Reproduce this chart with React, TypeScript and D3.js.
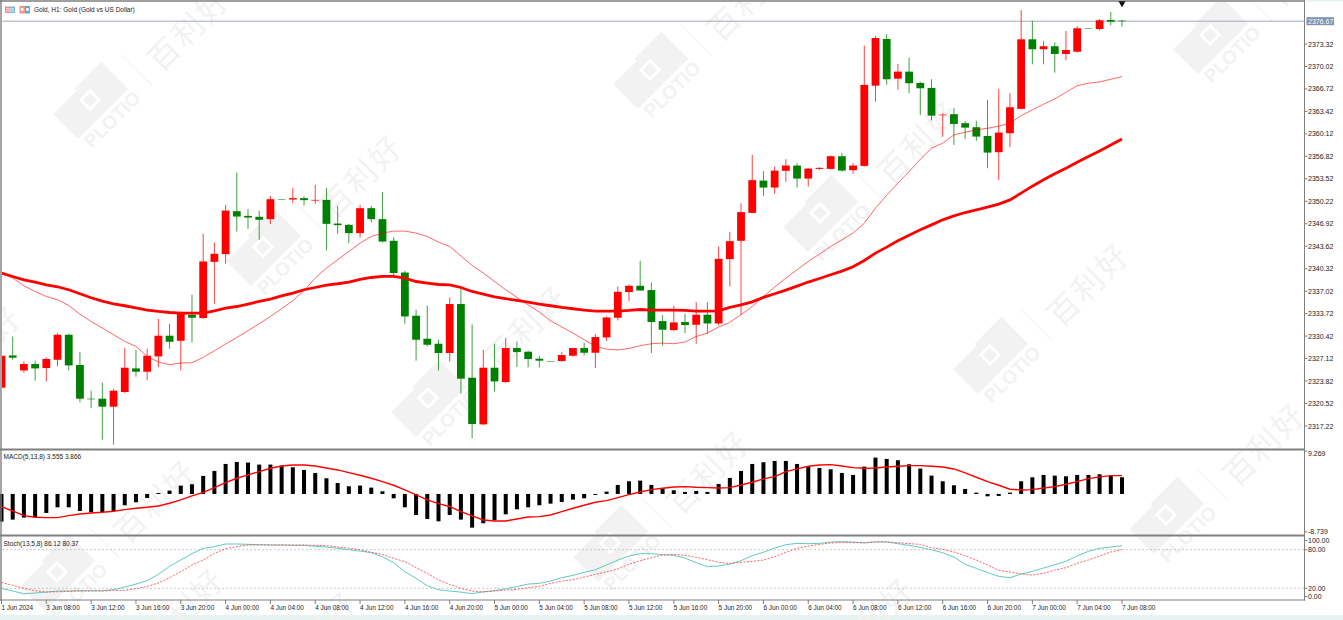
import { useEffect, useRef } from "react";
import * as d3 from "d3";

// hourly gold candles, 3 Jun 04:00 to 7 Jun 08:00
const openPrices = [
  2322.84, 2327.58, 2325.38, 2326.32, 2325.74, 2326.95, 2330.62, 2326.18, 2321.23, 2321.23,
  2320.06, 2322.21, 2325.68, 2325.19, 2327.44, 2330.48, 2329.74, 2333.56, 2333.07, 2341.33,
  2342.46, 2348.77, 2348.08, 2347.94, 2347.6, 2350.53, 2350.48, 2350.68, 2350.33, 2350.43,
  2346.95, 2346.76, 2345.55, 2349.21, 2347.6, 2344.42, 2339.76, 2333.41, 2330.04, 2329.3,
  2327.94, 2335.13, 2324.31, 2317.46, 2325.78, 2323.68, 2328.67, 2328.13, 2327.1, 2326.76,
  2326.76, 2327.54, 2328.67, 2327.98, 2330.23, 2333.12, 2336.89, 2337.81, 2337.18, 2332.63,
  2331.31, 2332.49, 2332.09, 2333.56, 2332.28, 2341.73, 2344.42, 2348.52, 2353.26, 2352.24,
  2354.69, 2355.47, 2353.56, 2354.98, 2354.98, 2356.84, 2354.79, 2355.42, 2367.2, 2374.06,
  2368.23, 2369.26, 2367.6, 2366.87, 2362.86, 2363.01, 2361.69, 2361.1, 2359.82, 2357.43,
  2360.22, 2363.79, 2374.01, 2372.55, 2372.99, 2371.86, 2372.19, 2375.63, 2375.52, 2376.85,
  2376.75,
];
const closePrices = [
  2327.54, 2327.25, 2326.32, 2325.68, 2327.06, 2330.62, 2326.12, 2321.23, 2321.14, 2320.06,
  2322.4, 2325.78, 2325.19, 2327.54, 2330.48, 2329.59, 2333.85, 2333.12, 2341.38, 2342.51,
  2348.86, 2347.98, 2347.83, 2347.5, 2350.53, 2350.5, 2350.68, 2350.39, 2350.43, 2346.91,
  2346.72, 2345.55, 2349.21, 2347.6, 2344.31, 2339.68, 2333.31, 2329.89, 2329.15, 2327.94,
  2335.13, 2324.17, 2317.52, 2325.78, 2323.77, 2328.67, 2328.08, 2327.06, 2326.81, 2326.74,
  2327.64, 2328.67, 2327.98, 2330.28, 2333.16, 2336.93, 2337.81, 2337.12, 2332.49, 2331.36,
  2332.43, 2332.05, 2333.56, 2332.28, 2341.77, 2344.37, 2348.63, 2353.32, 2352.24, 2354.73,
  2355.47, 2353.56, 2355.02, 2355.13, 2356.84, 2354.73, 2355.47, 2367.31, 2374.2, 2368.14,
  2369.26, 2367.56, 2366.82, 2362.8, 2362.95, 2361.58, 2361.04, 2359.72, 2357.37, 2360.31,
  2364.03, 2374.01, 2372.55, 2372.99, 2371.86, 2372.44, 2375.63, 2375.61, 2376.8, 2376.6,
  2376.67,
];
const highPrices = [
  2327.69, 2330.37, 2326.7, 2326.81, 2327.29, 2330.87, 2330.77, 2328.08, 2322.4, 2323.58,
  2322.7, 2328.67, 2328.38, 2328.57, 2332.93, 2332.19, 2334.04, 2336.49, 2345.44, 2344.17,
  2349.7, 2354.44, 2349.07, 2348.82, 2351.02, 2350.53, 2352.19, 2350.97, 2352.63, 2352.19,
  2349.55, 2346.91, 2349.7, 2349.55, 2351.56, 2344.96, 2340.01, 2334.29, 2334.92, 2329.89,
  2336.1, 2337.33, 2332.13, 2328.42, 2329.3, 2330.18, 2329.64, 2328.27, 2327.54, 2326.76,
  2328.08, 2328.71, 2329.45, 2330.72, 2333.31, 2337.71, 2338.0, 2341.48, 2338.3, 2333.51,
  2334.88, 2333.7, 2335.42, 2335.42, 2343.58, 2345.74, 2349.95, 2357.04, 2354.64, 2355.32,
  2356.4, 2355.82, 2355.13, 2355.23, 2356.93, 2357.33, 2355.82, 2373.07, 2374.5, 2374.75,
  2370.39, 2371.31, 2367.79, 2368.14, 2363.15, 2363.89, 2361.98, 2362.02, 2365.11, 2366.72,
  2366.09, 2378.31, 2376.74, 2373.76, 2373.57, 2375.23, 2375.96, 2375.63, 2376.99, 2378.02,
  2376.85,
];
const lowPrices = [
  2322.84, 2326.95, 2325.05, 2323.87, 2323.77, 2325.97, 2325.38, 2320.69, 2319.87, 2315.21,
  2314.48, 2322.07, 2324.46, 2323.97, 2325.88, 2328.57, 2325.38, 2329.49, 2332.97, 2335.17,
  2341.04, 2345.78, 2346.18, 2344.56, 2346.87, 2350.5, 2349.95, 2349.6, 2349.85, 2342.99,
  2345.44, 2344.08, 2344.9, 2347.1, 2344.17, 2339.28, 2332.24, 2326.81, 2328.91, 2325.38,
  2326.7, 2321.96, 2315.41, 2317.37, 2322.3, 2323.53, 2325.88, 2325.82, 2325.82, 2326.74,
  2326.66, 2327.39, 2327.58, 2325.74, 2329.7, 2332.72, 2335.51, 2337.08, 2327.94, 2329.01,
  2331.11, 2330.87, 2329.3, 2330.77, 2331.99, 2337.71, 2333.56, 2348.48, 2351.02, 2351.31,
  2353.07, 2352.24, 2352.38, 2354.83, 2354.88, 2354.58, 2354.25, 2355.32, 2364.86, 2367.35,
  2366.62, 2366.09, 2362.9, 2362.07, 2359.72, 2358.5, 2359.38, 2359.09, 2355.08, 2353.37,
  2358.17, 2363.74, 2370.34, 2370.34, 2369.11, 2370.93, 2372.05, 2375.61, 2375.33, 2376.07,
  2375.86,
];

const fastMa = [
  2339.68, 2338.94, 2337.81, 2336.98, 2336.24, 2335.76, 2334.92, 2333.66, 2332.57, 2331.61,
  2330.62, 2329.64, 2328.91, 2327.44, 2326.62, 2326.22, 2326.47, 2326.51, 2327.29, 2328.27,
  2329.26, 2330.23, 2331.21, 2332.24, 2333.31, 2334.44, 2335.61, 2337.12, 2338.94, 2340.41,
  2341.63, 2342.85, 2344.08, 2345.05, 2345.55, 2345.84, 2345.84, 2345.55, 2345.05, 2344.22,
  2343.58, 2342.21, 2340.79, 2339.68, 2338.44, 2337.23, 2336.1, 2335.02, 2333.95, 2332.68,
  2331.75, 2330.87, 2329.89, 2328.91, 2328.52, 2328.38, 2328.61, 2329.01, 2329.3, 2329.4,
  2329.3, 2329.55, 2330.37, 2330.87, 2331.75, 2332.43, 2333.56, 2334.77, 2336.24, 2337.62,
  2338.94, 2340.16, 2341.38, 2342.46, 2343.58, 2344.56, 2345.55, 2347.01, 2349.21, 2351.1,
  2352.9, 2354.58, 2356.4, 2358.02, 2358.75, 2359.97, 2360.37, 2360.7, 2360.95, 2361.25,
  2361.69, 2362.8, 2363.64, 2364.48, 2365.25, 2366.24, 2367.2, 2367.56, 2367.75, 2368.14,
  2368.53,
];
const slowMa = [
  2339.68, 2339.18, 2338.69, 2338.36, 2337.96, 2337.67, 2337.23, 2336.64, 2336.05, 2335.57,
  2335.17, 2334.88, 2334.58, 2334.25, 2334.04, 2333.89, 2333.81, 2333.81, 2333.81, 2334.14,
  2334.54, 2334.77, 2335.13, 2335.51, 2335.86, 2336.34, 2336.74, 2337.23, 2337.56, 2337.92,
  2338.11, 2338.36, 2338.74, 2339.03, 2339.18, 2339.18, 2338.94, 2338.44, 2338.21, 2338.0,
  2337.96, 2337.56, 2336.98, 2336.59, 2336.2, 2335.91, 2335.66, 2335.42, 2335.13, 2334.88,
  2334.63, 2334.44, 2334.25, 2334.1, 2334.1, 2334.1, 2334.19, 2334.33, 2334.25, 2334.25,
  2334.25, 2334.19, 2334.1, 2334.1, 2334.14, 2334.63, 2335.02, 2335.46, 2336.1, 2336.64,
  2337.18, 2337.77, 2338.36, 2338.88, 2339.43, 2339.97, 2340.6, 2341.53, 2342.61, 2343.49,
  2344.42, 2345.22, 2346.03, 2346.76, 2347.5, 2348.08, 2348.57, 2348.96, 2349.36, 2349.8,
  2350.43, 2351.42, 2352.44, 2353.37, 2354.25, 2355.08, 2355.96, 2356.79, 2357.62, 2358.5,
  2359.38,
];

const macdHist = [
  -6.37, -5.91, -5.45, -5.38, -4.38, -3.07, -3.07, -3.92, -4.22, -4.22,
  -3.92, -2.61, -1.92, -0.92, 0.23, 0.77, 1.92, 2.23, 4.15, 5.3,
  6.91, 7.37, 7.22, 6.76, 6.76, 6.53, 6.14, 5.53, 4.84, 3.61,
  2.53, 1.77, 1.92, 1.46, 0.61, -1.0, -3.07, -4.84, -5.76, -6.3,
  -4.84, -5.91, -7.76, -6.76, -6.07, -4.69, -3.53, -3.07, -2.61, -2.23,
  -1.84, -1.31, -1.0, -0.23, 0.54, 2.07, 2.92, 3.07, 2.07, 1.38,
  0.84, 0.46, 0.69, 0.46, 2.3, 3.69, 5.3, 6.91, 7.3, 7.6,
  7.6, 6.91, 6.38, 5.99, 5.68, 4.84, 4.38, 6.3, 8.37, 8.06,
  7.76, 6.84, 5.84, 4.22, 2.92, 2.0, 1.15, 0.31, -0.54, -0.46,
  0.31, 2.92, 3.84, 4.38, 4.22, 4.07, 4.38, 4.38, 4.53, 4.22,
  3.84,
];
const macdSignal = [
  -2.92, -3.92, -4.99, -5.38, -5.45, -5.45, -4.99, -4.61, -4.38, -4.22,
  -3.99, -3.61, -3.3, -3.07, -2.76, -2.15, -1.38, -0.46, 0.38, 1.46,
  2.61, 3.61, 4.38, 5.15, 5.91, 6.45, 6.68, 6.68, 6.45, 5.99,
  5.53, 4.92, 4.3, 3.61, 2.84, 2.0, 0.92, -0.23, -1.38, -2.23,
  -2.88, -4.07, -5.07, -5.99, -6.22, -6.22, -5.76, -5.3, -5.22, -4.84,
  -4.07, -3.3, -2.61, -1.92, -1.54, -0.84, -0.15, 0.46, 1.0, 1.31,
  1.61, 1.69, 1.54, 1.46, 1.38, 1.46, 2.07, 2.69, 3.46, 3.99,
  5.15, 5.76, 6.38, 6.68, 6.76, 6.45, 6.07, 5.91, 5.99, 6.22,
  6.38, 6.53, 6.53, 6.38, 6.22, 5.76, 4.84, 3.84, 2.84, 2.0,
  1.08, 0.92, 1.0, 1.38, 1.69, 2.23, 2.84, 3.53, 3.92, 4.22,
  4.22,
];

const stochMain = [
  19.9, 15.8, 11.6, 12.7, 14.2, 15.8, 15.8, 16.3, 16.3, 16.3,
  17.8, 22.0, 26.6, 31.8, 41.7, 54.1, 63.9, 73.8, 82.1, 84.7,
  88.8, 88.8, 88.3, 87.8, 87.3, 87.3, 86.7, 86.7, 85.2, 84.1,
  82.1, 80.0, 77.9, 75.3, 69.1, 59.8, 45.8, 35.5, 24.1, 17.8,
  15.8, 14.2, 11.6, 14.7, 16.3, 19.4, 22.5, 26.6, 27.7, 31.3,
  36.5, 40.1, 44.8, 48.9, 56.2, 63.9, 70.2, 73.8, 73.8, 72.2,
  71.2, 67.1, 59.8, 53.6, 54.6, 57.7, 62.9, 70.7, 75.9, 82.6,
  87.8, 89.8, 89.3, 89.8, 91.9, 92.4, 91.9, 90.4, 91.9, 91.9,
  89.3, 86.7, 83.6, 80.0, 75.3, 68.6, 57.2, 51.0, 44.3, 38.6,
  36.5, 42.2, 46.3, 51.5, 56.7, 61.9, 70.2, 77.4, 82.1, 84.1,
  86.1,
];
const stochSignal = [
  29.2, 24.6, 19.9, 16.3, 14.2, 14.7, 15.3, 15.8, 15.8, 15.8,
  16.8, 16.8, 19.4, 23.0, 28.2, 36.5, 45.8, 56.2, 63.9, 74.3,
  81.6, 84.7, 87.3, 87.3, 87.3, 87.3, 87.3, 87.3, 86.7, 86.2,
  84.1, 82.1, 80.0, 75.9, 72.7, 66.5, 61.4, 52.0, 43.2, 32.9,
  26.1, 19.9, 15.8, 14.2, 15.8, 17.3, 18.4, 20.9, 23.0, 27.7,
  31.3, 33.4, 37.5, 41.7, 45.8, 50.0, 57.2, 62.9, 67.6, 71.7,
  72.7, 71.2, 68.1, 64.5, 60.3, 58.8, 60.3, 61.9, 63.9, 69.1,
  75.9, 82.1, 85.7, 88.3, 90.4, 91.4, 90.9, 90.9, 92.4, 92.4,
  90.9, 89.3, 88.3, 83.1, 80.5, 76.4, 70.7, 63.9, 56.2, 47.9,
  45.3, 42.2, 40.6, 43.2, 48.4, 52.0, 58.8, 63.9, 70.2, 76.4,
  80.4,
];

const priceTicks = [
  2373.32, 2370.02, 2366.72, 2363.42, 2360.12, 2356.82, 2353.52, 2350.22, 2346.92,
  2343.62, 2340.32, 2337.02, 2333.72, 2330.42, 2327.12, 2323.82, 2320.52, 2317.22,
];
const lastPrice = 2376.67;
const macdTicks = [9.269, -8.739];
const stochLevels = [80, 20];
const stochTicks = [100, 80, 20, 0];
const timeLabels = [
  "1 Jun 2024", "3 Jun 08:00", "3 Jun 12:00", "3 Jun 16:00", "3 Jun 20:00",
  "4 Jun 00:00", "4 Jun 04:00", "4 Jun 08:00", "4 Jun 12:00", "4 Jun 16:00", "4 Jun 20:00",
  "5 Jun 00:00", "5 Jun 04:00", "5 Jun 08:00", "5 Jun 12:00", "5 Jun 16:00", "5 Jun 20:00",
  "6 Jun 00:00", "6 Jun 04:00", "6 Jun 08:00", "6 Jun 12:00", "6 Jun 16:00", "6 Jun 20:00",
  "7 Jun 00:00", "7 Jun 04:00", "7 Jun 08:00",
];
const watermarkSpots: [number, number][] = [
  [90, 100], [263, 247], [428, 398], [610, 543], [775, 690],
  [650, 70], [820, 213], [990, 355], [1166, 515],
  [1210, 35], [-118, 418], [57, 572], [85, 680], [217, 703],
];

const FONT = "'Liberation Sans', Arial, sans-serif";
const CJK = "'Noto Sans CJK SC', sans-serif";
const GREY = "#7f7f7f";
const AXIS_X = 1304.5;

const App = () => {
  const svgRef = useRef<SVGSVGElement>(null);

  useEffect(() => {
    if (!svgRef.current) return;
    const svg = d3.select(svgRef.current);
    svg.selectAll("*").remove();

    const x = d3.scaleLinear().domain([0, 100]).range([1.5, 1122]);
    const yPrice = d3.scaleLinear().domain([2373.32, 2317.22]).range([44, 426]);
    const yMacd = d3.scaleLinear().domain([9.269, -8.739]).range([453.7, 531.9]);
    const yStoch = d3.scaleLinear().domain([100, 0]).range([536.8, 601.2]);
    const idx = d3.range(openPrices.length);

    svg.append("rect").attr("width", 1343).attr("height", 620).attr("fill", "white");
    svg.append("rect").attr("y", 615).attr("width", 1343).attr("height", 5).attr("fill", "#e6f3f0");
    svg.append("rect").attr("x", 1306).attr("width", 37).attr("height", 1.5).attr("fill", "#e6f3f0");

    // watermark goes under everything
    const wm = svg
      .append("g")
      .selectAll("g")
      .data(watermarkSpots)
      .join("g")
      .attr("transform", (d) => `translate(${d[0]},${d[1]}) rotate(-45)`)
      .attr("fill", "#f2f2f2");
    wm.append("path").attr("d", "M-36,-16 H-3 V-19 H35 V19 H-36 Z");
    wm.append("rect").attr("x", -8).attr("y", -8).attr("width", 16).attr("height", 16).attr("fill", "white");
    wm.append("rect").attr("x", -5).attr("y", -5).attr("width", 10).attr("height", 10);
    wm.append("text")
      .attr("x", 2)
      .attr("y", 36)
      .attr("text-anchor", "middle")
      .attr("font-family", FONT)
      .attr("font-weight", "bold")
      .attr("font-size", 19)
      .text("PLOTIO");
    wm.append("line")
      .attr("x1", 54)
      .attr("x2", 54)
      .attr("y1", -10)
      .attr("y2", 34)
      .attr("stroke", "#f2f2f2");
    wm.append("text")
      .attr("x", 120)
      .attr("y", 31)
      .attr("text-anchor", "middle")
      .attr("font-family", CJK)
      .attr("font-size", 31)
      .attr("letter-spacing", 3)
      .text("百利好");

    svg
      .append("clipPath")
      .attr("id", "main-clip")
      .append("rect")
      .attr("x", 2)
      .attr("y", 2)
      .attr("width", AXIS_X - 2)
      .attr("height", 446);

    const main = svg.append("g").attr("clip-path", "url(#main-clip)");

    // last price line
    main
      .append("line")
      .attr("x1", 2)
      .attr("x2", AXIS_X)
      .attr("y1", yPrice(lastPrice))
      .attr("y2", yPrice(lastPrice))
      .attr("stroke", "#a3abb6");

    const colorOf = (i: number) => (closePrices[i] >= openPrices[i] ? "#ff0000" : "#008000");

    main
      .append("g")
      .selectAll("line")
      .data(idx)
      .join("line")
      .attr("x1", (i) => x(i))
      .attr("x2", (i) => x(i))
      .attr("y1", (i) => yPrice(highPrices[i]))
      .attr("y2", (i) => yPrice(lowPrices[i]))
      .attr("stroke", colorOf)
      .attr("stroke-opacity", 0.75);

    main
      .append("g")
      .selectAll("rect")
      .data(idx)
      .join("rect")
      .attr("x", (i) => x(i) - 3.9)
      .attr("width", 7.8)
      .attr("y", (i) => yPrice(Math.max(openPrices[i], closePrices[i])))
      .attr("height", (i) =>
        Math.max(0.5, Math.abs(yPrice(openPrices[i]) - yPrice(closePrices[i]))),
      )
      .attr("fill", colorOf);

    const line = (values: number[], y: d3.ScaleLinear<number, number>) =>
      d3
        .line<number>()
        .x((_, i) => x(i))
        .y((d) => y(d))(values);

    main
      .append("path")
      .attr("d", line(fastMa, yPrice))
      .attr("fill", "none")
      .attr("stroke", "#ff0000")
      .attr("stroke-opacity", 0.6)
      .attr("stroke-width", 1);
    main
      .append("path")
      .attr("d", line(slowMa, yPrice))
      .attr("fill", "none")
      .attr("stroke", "#ff0000")
      .attr("stroke-width", 2.8);

    // MACD
    svg
      .append("g")
      .selectAll("rect")
      .data(macdHist)
      .join("rect")
      .attr("x", (_, i) => x(i) - 2)
      .attr("width", 4)
      .attr("y", (d) => Math.min(yMacd(d), yMacd(0)))
      .attr("height", (d) => Math.abs(yMacd(d) - yMacd(0)))
      .attr("fill", "black");
    svg
      .append("path")
      .attr("d", line(macdSignal, yMacd))
      .attr("fill", "none")
      .attr("stroke", "#ff0000")
      .attr("stroke-width", 1.4);

    // Stochastic
    svg
      .append("g")
      .selectAll("line")
      .data(stochLevels)
      .join("line")
      .attr("x1", 2)
      .attr("x2", AXIS_X)
      .attr("y1", (d) => yStoch(d))
      .attr("y2", (d) => yStoch(d))
      .attr("stroke", "#bdbdbd")
      .attr("stroke-width", 0.8)
      .attr("stroke-dasharray", "2 2");
    svg
      .append("path")
      .attr("d", line(stochMain, yStoch))
      .attr("fill", "none")
      .attr("stroke", "#62c9c3")
      .attr("stroke-width", 1);
    svg
      .append("path")
      .attr("d", line(stochSignal, yStoch))
      .attr("fill", "none")
      .attr("stroke", "#ff4d4d")
      .attr("stroke-width", 0.9)
      .attr("stroke-dasharray", "2 1.5");

    // frame
    const frame = svg.append("g").attr("stroke", GREY).attr("fill", "none");
    frame.append("line").attr("x1", 0).attr("x2", AXIS_X + 0.5).attr("y1", 1).attr("y2", 1).attr("stroke-width", 1.6);
    frame.append("line").attr("x1", 1).attr("x2", 1).attr("y1", 0).attr("y2", 600.5).attr("stroke-width", 1.4);
    frame.append("line").attr("x1", 0).attr("x2", AXIS_X + 0.5).attr("y1", 449.5).attr("y2", 449.5).attr("stroke-width", 2);
    frame.append("line").attr("x1", 0).attr("x2", AXIS_X + 0.5).attr("y1", 535.5).attr("y2", 535.5).attr("stroke-width", 2);
    frame.append("line").attr("x1", 0).attr("x2", AXIS_X + 0.5).attr("y1", 600).attr("y2", 600).attr("stroke-width", 1);
    frame.append("line").attr("x1", AXIS_X).attr("x2", AXIS_X).attr("y1", 0).attr("y2", 600.5).attr("stroke-width", 1);

    const axisText = svg
      .append("g")
      .attr("font-family", FONT)
      .attr("font-size", 7)
      .attr("fill", "#222");

    const yLabels = (
      rows: { y: number; tickY: number; text: string }[],
    ) => {
      const g = axisText.append("g").selectAll("g").data(rows).join("g");
      g.append("line")
        .attr("x1", AXIS_X)
        .attr("x2", AXIS_X + 3)
        .attr("y1", (d) => d.tickY)
        .attr("y2", (d) => d.tickY)
        .attr("stroke", GREY);
      g.append("text")
        .attr("x", 1308)
        .attr("y", (d) => d.y + 2.5)
        .text((d) => d.text);
    };

    yLabels(priceTicks.map((p) => ({ y: yPrice(p), tickY: yPrice(p), text: p.toFixed(2) })));
    yLabels(macdTicks.map((v) => ({ y: yMacd(v), tickY: yMacd(v) - (v > 0 ? 2.5 : 0), text: v.toFixed(3) })));
    yLabels(
      stochTicks.map((v) => ({
        // top and bottom labels stay inside the pane
        y: v === 100 ? 540.7 : v === 0 ? 596.7 : yStoch(v),
        tickY: v === 100 ? 540.7 : v === 0 ? 596.7 : yStoch(v),
        text: v.toFixed(2),
      })),
    );

    // last price tag
    svg
      .append("rect")
      .attr("x", 1306.5)
      .attr("y", yPrice(lastPrice) - 4)
      .attr("width", 27.5)
      .attr("height", 8)
      .attr("fill", "#7f93ad");
    svg
      .append("text")
      .attr("x", 1308)
      .attr("y", yPrice(lastPrice) + 2.5)
      .attr("font-family", FONT)
      .attr("font-size", 7)
      .attr("fill", "white")
      .text(lastPrice.toFixed(2));

    // marker above the last bar
    svg
      .append("path")
      .attr("d", d3.symbol(d3.symbolTriangle, 22)())
      .attr("transform", `translate(${x(100)},3.2) rotate(180)`)
      .attr("fill", "#111");

    const timeG = axisText
      .append("g")
      .selectAll("g")
      .data(timeLabels)
      .join("g")
      .attr("transform", (_, i) => `translate(${x(i * 4)},0)`);
    timeG
      .append("line")
      .attr("y1", 600)
      .attr("y2", 604)
      .attr("stroke", GREY);
    timeG
      .append("text")
      .attr("y", 609.5)
      .attr("font-size", 6.4)
      .text((d) => d);

    // header
    const head = svg.append("g").attr("font-family", FONT).attr("font-size", 6.5).attr("fill", "#222");
    head.append("text").attr("x", 34).attr("y", 12).text("Gold, H1:  Gold (Gold vs US Dollar)");
    head.append("text").attr("x", 3.5).attr("y", 459).text("MACD(5,13,8) 3.555 3.866");
    head.append("text").attr("x", 3.5).attr("y", 546).text("Stoch(13,5,8) 86.12 80.37");

    // toolbar icons
    const icons = svg.append("g");
    icons.append("rect").attr("x", 5).attr("y", 6.5).attr("width", 5).attr("height", 6.5).attr("fill", "#f28d80");
    icons.append("rect").attr("x", 10).attr("y", 6.5).attr("width", 5).attr("height", 6.5).attr("fill", "#7db6e0");
    icons.append("rect").attr("x", 6).attr("y", 8.5).attr("width", 8).attr("height", 0.8).attr("fill", "white");
    icons.append("rect").attr("x", 6).attr("y", 10.6).attr("width", 8).attr("height", 0.8).attr("fill", "white");
    icons.append("rect").attr("x", 19.5).attr("y", 6).attr("width", 5.5).attr("height", 7.5).attr("fill", "#f0958a");
    icons.append("rect").attr("x", 25).attr("y", 6).attr("width", 5).attr("height", 7.5).attr("fill", "#5aa7e0");
    icons.append("rect").attr("x", 21).attr("y", 8).attr("width", 2.5).attr("height", 3).attr("fill", "white");
    icons.append("rect").attr("x", 26.2).attr("y", 8).attr("width", 2.5).attr("height", 3).attr("fill", "white");
  }, []);

  return (
    <div>
      <svg
        ref={svgRef}
        width={1343}
        height={620}
        style={{ position: "absolute", left: 0, top: 0, display: "block" }}
      />
    </div>
  );
};

export default App;
